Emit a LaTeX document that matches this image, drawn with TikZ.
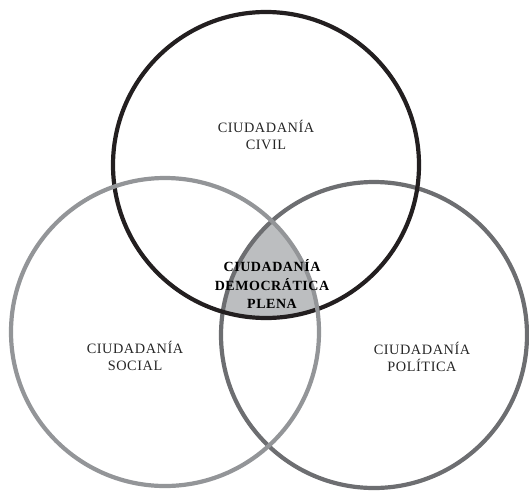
\documentclass[tikz,border=0pt]{standalone}
\usepackage{fontspec}
\setmainfont{Liberation Serif}
\newfontfamily\lblfont[LetterSpace=4]{Liberation Serif}
\definecolor{cblack}{HTML}{231F20}
\definecolor{clight}{HTML}{939598}
\definecolor{cdark}{HTML}{6D6E71}
\definecolor{cfill}{HTML}{BCBEC0}
\begin{document}
\begin{tikzpicture}[x=1pt,y=-1pt,
  ring/.style={line width=4.2pt},
  lbl/.style={align=center,font=\lblfont\fontsize{14.3}{17.5}\selectfont,text=black!85},
  lblb/.style={align=center,font=\lblfont\bfseries\fontsize{14}{18.5}\selectfont,text=black}]
\useasboundingbox (0,0) rectangle (529,490);
\coordinate (cc) at (266,165);
\coordinate (cl) at (165,332);
\coordinate (cr) at (374,335);
\begin{scope}
  \clip (cc) circle (153);
  \clip (cl) circle (154);
  \fill[cfill] (cr) circle (153);
\end{scope}
\draw[ring,cdark] (cr) circle (153);
\draw[ring,cblack] (cc) circle (153);
\draw[ring,clight] (cl) circle (154);
\node[lbl] (civil) at (266,135) {CIUDADANÍA\\CIVIL};
\node[lbl] (social) at (135,356) {CIUDADANÍA\\SOCIAL};
\node[lbl] (politica) at (422,357) {CIUDADANÍA\\POLÍTICA};
\node[lblb] (plena) at (272,284) {CIUDADANÍA\\DEMOCRÁTICA\\PLENA};
\end{tikzpicture}
\end{document}
